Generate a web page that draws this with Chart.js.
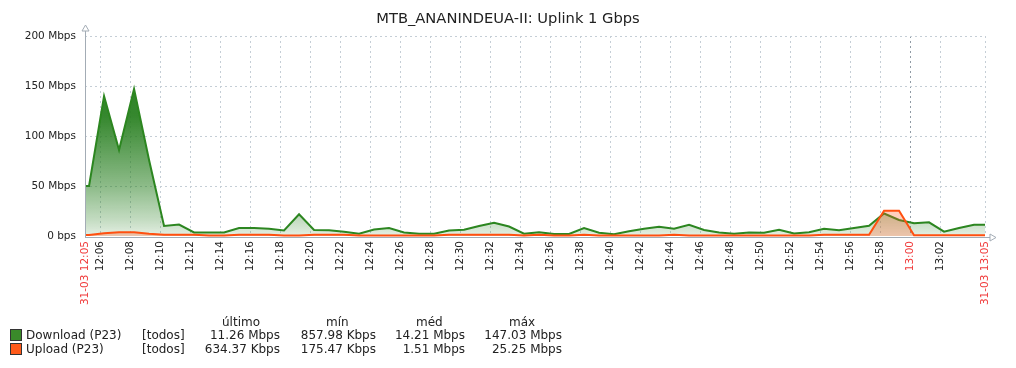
<!DOCTYPE html>
<html>
<head>
<meta charset="utf-8">
<script src="https://cdn.jsdelivr.net/npm/chart.js@4.4.1/dist/chart.umd.min.js"></script>
<style>
body { margin: 0; background: #fff; }
#wrap { position: relative; width: 1016px; height: 368px; font-family: 'DejaVu Sans', sans-serif; }
.lg { position: absolute; font-size: 12px; line-height: 14px; color: #222; white-space: nowrap; }
.num { text-align: right; }
.sw { position: absolute; width: 10px; height: 10px; border: 1px solid #333; }
</style>
</head>
<body>
<div id="wrap">
    <canvas id="trafficChart" width="1016" height="368"></canvas>
    <div id="legend"></div>
</div>
<script>
// Chart title and legend
const chartTitle = 'MTB_ANANINDEUA-II: Uplink 1 Gbps';
const legendHeaders = ['último', 'mín', 'méd', 'máx'];
const seriesNames = ['Download (P23)', 'Upload (P23)'];
const seriesScope = '[todos]';
const downloadStats = ['11.26 Mbps', '857.98 Kbps', '14.21 Mbps', '147.03 Mbps'];
const uploadStats = ['634.37 Kbps', '175.47 Kbps', '1.51 Mbps', '25.25 Mbps'];

// X axis: minutes after 12:05
const tickMinutes = [0, 1, 3, 5, 7, 9, 11, 13, 15, 17, 19, 21, 23, 25, 27, 29, 31, 33, 35, 37, 39, 41, 43, 45, 47, 49, 51, 53, 55, 57, 60];
const tickLabels = ['31-03 12:05', '12:06', '12:08', '12:10', '12:12', '12:14', '12:16', '12:18', '12:20', '12:22',
    '12:24', '12:26', '12:28', '12:30', '12:32', '12:34', '12:36', '12:38', '12:40', '12:42', '12:44', '12:46',
    '12:48', '12:50', '12:52', '12:54', '12:56', '12:58', '13:00', '13:02', '31-03 13:05'];
const redLabels = ['31-03 12:05', '13:00', '31-03 13:05'];

// Y axis ticks (Mbps)
const yTicks = [0, 50, 100, 150, 200];
const yTickLabels = ['0 bps', '50 Mbps', '100 Mbps', '150 Mbps', '200 Mbps'];

// one sample per minute, first one 16 s after 12:05 (Mbps)
const firstSample = 0.27;
const downloadMbps = [50, 140, 86, 147, 76, 10, 11.5, 3.5, 3.5, 3.5, 8, 8, 7.3, 5.5, 21.7, 6, 5.7, 4.3, 2.3, 6.5,
    8, 3.5, 2.3, 2.3, 5.5, 6.3, 10, 13.3, 9.5, 2.3, 3.7, 2, 2, 8, 3.3, 1.7, 4.7, 7.3, 9.3, 7.3,
    11.3, 6, 3.5, 2.3, 3.5, 3.3, 6.3, 2.5, 3.7, 7.3, 5.7, 8, 10.3, 22.5, 16, 12.7, 13.7, 4.3, 8, 11.26];
const uploadMbps = [1, 2.7, 3.7, 3.7, 2.3, 1.3, 1.3, 1.3, 0.4, 0.4, 1.3, 1.3, 1.3, 0.4, 0.4, 1.3, 1.3, 1.3, 0.4, 0.4,
    0.4, 0.4, 0.4, 0.4, 1.3, 1.3, 1.3, 1.3, 1.3, 0.4, 1.3, 0.4, 0.4, 1.3, 0.4, 0.4, 0.4, 0.4, 0.4, 1.3,
    0.4, 0.4, 0.4, 0.4, 0.4, 0.4, 0.4, 0.4, 0.4, 1.3, 1.3, 1.3, 1.3, 25.25, 25.2, 0.8, 0.8, 0.8, 0.8, 0.63];

const FONT = 'DejaVu Sans';

// samples to {x, y}, first and last value held to the graph edges
function toPoints(values) {
    const pts = [{ x: 0, y: values[0] }];
    values.forEach((v, k) => pts.push({ x: firstSample + k, y: v }));
    pts.push({ x: 60, y: values[values.length - 1] });
    return pts;
}

function greenFill(context) {
    const area = context.chart.chartArea;
    if (!area) return 'rgba(40,130,30,0.3)';
    const g = context.chart.ctx.createLinearGradient(0, area.top, 0, area.bottom);
    g.addColorStop(0, 'rgba(36,125,28,1)');
    g.addColorStop(0.4, 'rgba(36,125,28,0.92)');
    g.addColorStop(0.75, 'rgba(36,125,28,0.52)');
    g.addColorStop(0.92, 'rgba(36,125,28,0.27)');
    g.addColorStop(1, 'rgba(36,125,28,0.12)');
    return g;
}

// title centred on the whole picture
const pageTitle = {
    id: 'pageTitle',
    afterDraw(chart) {
        const ctx = chart.ctx;
        ctx.save();
        ctx.font = '14.7px "' + FONT + '"';
        ctx.fillStyle = '#222';
        ctx.textAlign = 'center';
        ctx.textBaseline = 'middle';
        ctx.fillText(chartTitle, chart.width / 2, 19);
        ctx.restore();
    }
};

// axis lines with arrows like the original graph
const axisArrows = {
    id: 'axisArrows',
    afterDatasetsDraw(chart) {
        const { ctx, chartArea: a } = chart;
        const yb = a.bottom + 1.5;
        ctx.save();
        ctx.strokeStyle = '#a3acb5';
        ctx.lineWidth = 1;
        ctx.beginPath();
        ctx.moveTo(a.left + 0.5, a.top - 7);
        ctx.lineTo(a.left + 0.5, yb);
        ctx.moveTo(a.left, yb);
        ctx.lineTo(a.right + 6, yb);
        ctx.stroke();
        ctx.fillStyle = '#fff';
        ctx.beginPath();
        ctx.moveTo(a.left + 0.5, a.top - 11);
        ctx.lineTo(a.left - 3, a.top - 5);
        ctx.lineTo(a.left + 4, a.top - 5);
        ctx.closePath();
        ctx.fill();
        ctx.stroke();
        ctx.beginPath();
        ctx.moveTo(a.right + 11, yb);
        ctx.lineTo(a.right + 5, yb - 3.5);
        ctx.lineTo(a.right + 5, yb + 3.5);
        ctx.closePath();
        ctx.fill();
        ctx.stroke();
        ctx.restore();
    }
};

new Chart(document.getElementById('trafficChart'), {
    type: 'line',
    data: {
        datasets: [
            {
                label: seriesNames[0],
                data: toPoints(downloadMbps),
                borderColor: '#2c8620',
                backgroundColor: greenFill,
                borderWidth: 2,
                fill: 'origin',
                tension: 0,
                pointRadius: 0,
                clip: false,
                order: 2
            },
            {
                label: seriesNames[1],
                data: toPoints(uploadMbps),
                borderColor: '#ff5010',
                backgroundColor: 'rgba(255,95,40,0.3)',
                borderWidth: 2,
                fill: 'origin',
                tension: 0,
                pointRadius: 0,
                clip: false,
                order: 1
            }
        ]
    },
    options: {
        responsive: false,
        animation: false,
        layout: { padding: { left: 0, right: 31, top: 36, bottom: 0 } },
        plugins: {
            legend: { display: false },
            tooltip: { enabled: false },
            title: { display: false }
        },
        scales: {
            x: {
                type: 'linear',
                min: 0,
                max: 60,
                afterBuildTicks: axis => { axis.ticks = tickMinutes.map(v => ({ value: v })); },
                afterFit: scale => { scale.height = 132; },
                ticks: {
                    autoSkip: false,
                    minRotation: 90,
                    maxRotation: 90,
                    padding: 5,
                    font: { family: FONT, size: 10.5 },
                    color: ctx => redLabels.includes(tickLabels[tickMinutes.indexOf(ctx.tick.value)]) ? '#f03a3a' : '#222',
                    callback: value => tickLabels[tickMinutes.indexOf(value)]
                },
                grid: {
                    drawTicks: false,
                    color: ctx => ctx.tick && ctx.tick.value === 55 ? '#8f9aa4' : '#c5ced6',
                    lineWidth: 1
                },
                border: { display: false, dash: [2, 3] }
            },
            y: {
                min: 0,
                max: 200,
                afterBuildTicks: axis => { axis.ticks = yTicks.map(v => ({ value: v })); },
                afterFit: scale => { scale.width = 85; },
                ticks: {
                    padding: 9,
                    font: { family: FONT, size: 10.5 },
                    color: '#222',
                    callback: value => yTickLabels[yTicks.indexOf(value)]
                },
                grid: {
                    drawTicks: false,
                    color: ctx => ctx.tick && ctx.tick.value === 0 ? 'rgba(0,0,0,0)' : '#c5ced6',
                    lineWidth: 1
                },
                border: { display: false, dash: [2, 3] }
            }
        }
    },
    plugins: [axisArrows, pageTitle]
});

// legend table under the graph
function addText(text, left, top, right) {
    const el = document.createElement('div');
    el.className = 'lg' + (right ? ' num' : '');
    el.textContent = text;
    el.style.top = top + 'px';
    if (right) {
        el.style.left = (left - 120) + 'px';
        el.style.width = '120px';
    } else {
        el.style.left = left + 'px';
    }
    document.getElementById('legend').appendChild(el);
}
function addSwatch(color, top) {
    const el = document.createElement('div');
    el.className = 'sw';
    el.style.left = '10px';
    el.style.top = top + 'px';
    el.style.background = color;
    document.getElementById('legend').appendChild(el);
}

const headerLeft = [222, 326, 416, 509];
const valueRight = [280, 376, 465, 562];
legendHeaders.forEach((h, i) => addText(h, headerLeft[i], 315));
[[seriesNames[0], downloadStats, '#3a8a2a', 328], [seriesNames[1], uploadStats, '#ff5a1a', 342]].forEach(row => {
    addSwatch(row[2], row[3] + 1);
    addText(row[0], 26, row[3]);
    addText(seriesScope, 142, row[3]);
    row[1].forEach((v, i) => addText(v, valueRight[i], row[3], true));
});
</script>
</body>
</html>
